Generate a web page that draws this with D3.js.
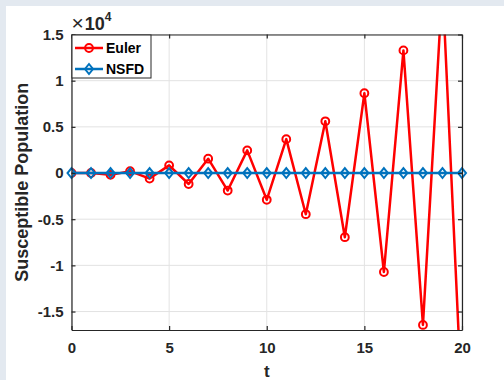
<!DOCTYPE html>
<html>
<head>
<meta charset="utf-8">
<script src="https://cdn.jsdelivr.net/npm/d3@7"></script>
<style>
  html, body { margin: 0; padding: 0; background: #e3e9f0; }
  svg { display: block; }
</style>
</head>
<body>
<script>
// Time steps and the two numerical solutions for the susceptible population
const tValues = d3.range(0, 21);
const eulerValues = [0, 0, -200, 200, -600, 830, -1190, 1550, -1900, 2450, -2900,
  3670, -4460, 5600, -6950, 8640, -10720, 13280, -16450, 20400, -25300];
const nsfdValues = [0, 0, 0, 0, 0, 0, 0, 0, 0, 0, 0, 0, 0, 0, 0, 0, 0, 0, 0, 0, 0];
const xTicks = [0, 5, 10, 15, 20];
const yTicks = [-15000, -10000, -5000, 0, 5000, 10000, 15000];
const yTickLabels = ["-1.5", "-1", "-0.5", "0", "0.5", "1", "1.5"];
const seriesNames = ["Euler", "NSFD"];

const W = 504, H = 380;
const plotL = 71.5, plotR = 462, plotT = 34.5, plotB = 330;
const axisColor = "#262626";
const font = "'Liberation Sans', Arial, Helvetica, sans-serif";

const svg = d3.select("body").append("svg").attr("width", W).attr("height", H);

// white figure panel
svg.append("rect").attr("x", 6).attr("y", 6).attr("width", W - 6).attr("height", H - 6).attr("fill", "#fff");

const x = d3.scaleLinear().domain([0, 20]).range([plotL, plotR]);
const y = d3.scaleLinear().domain([-17000, 15000]).range([plotB, plotT]);

// grid
const grid = svg.append("g").attr("stroke", "#e3e3e3").attr("stroke-width", 1);
xTicks.forEach(v => grid.append("line").attr("x1", x(v)).attr("x2", x(v)).attr("y1", plotT).attr("y2", plotB));
yTicks.forEach(v => grid.append("line").attr("x1", plotL).attr("x2", plotR).attr("y1", y(v)).attr("y2", y(v)));

// data clipped to the plot box
svg.append("clipPath").attr("id", "plotclip").append("rect")
  .attr("x", plotL).attr("y", plotT).attr("width", plotR - plotL).attr("height", plotB - plotT);

const plot = svg.append("g").attr("clip-path", "url(#plotclip)");
const line = d3.line().x((d, i) => x(tValues[i])).y(d => y(d));

const colors = ["#ff0000", "#0072bd"];
const diamond = "M0,-5 L4,0 L0,5 L-4,0 Z";
const lw = 2.5;

// Euler
plot.append("path").datum(eulerValues).attr("d", line)
  .attr("fill", "none").attr("stroke", colors[0]).attr("stroke-width", lw).attr("stroke-linejoin", "round");
plot.selectAll("circle.eu").data(eulerValues).join("circle").attr("class", "eu")
  .attr("cx", (d, i) => x(tValues[i])).attr("cy", d => y(d)).attr("r", 3.9)
  .attr("fill", "none").attr("stroke", colors[0]).attr("stroke-width", 2);

// NSFD
plot.append("path").datum(nsfdValues).attr("d", line)
  .attr("fill", "none").attr("stroke", colors[1]).attr("stroke-width", lw);
svg.selectAll("path.ns").data(nsfdValues).join("path").attr("class", "ns")
  .attr("transform", (d, i) => `translate(${x(tValues[i])},${y(d)})`)
  .attr("d", diamond).attr("fill", "none").attr("stroke", colors[1]).attr("stroke-width", 2);

// axes box and ticks
const xAxisB = d3.axisBottom(x).tickValues(xTicks).tickSizeInner(-4).tickSizeOuter(0).tickFormat(d3.format("d"));
const xAxisT = d3.axisTop(x).tickValues(xTicks).tickSizeInner(-4).tickSizeOuter(0).tickFormat("");
const yAxisL = d3.axisLeft(y).tickValues(yTicks).tickSizeInner(-4).tickSizeOuter(0)
  .tickFormat(d => yTickLabels[yTicks.indexOf(d)]);
const yAxisR = d3.axisRight(y).tickValues(yTicks).tickSizeInner(-4).tickSizeOuter(0).tickFormat("");

function styleAxis(g) {
  g.select(".domain").attr("stroke", axisColor).attr("stroke-width", 1.2);
  g.selectAll(".tick line").attr("stroke", axisColor).attr("stroke-width", 1.2);
  g.selectAll(".tick text").attr("fill", axisColor).style("font-family", font)
    .style("font-size", "15px").style("font-weight", "bold");
}
svg.append("g").attr("transform", `translate(0,${plotB})`).call(xAxisB).call(styleAxis)
  .selectAll(".tick text").attr("dy", "1.05em").attr("y", 7);
svg.append("g").attr("transform", `translate(0,${plotT})`).call(xAxisT).call(styleAxis);
svg.append("g").attr("transform", `translate(${plotL},0)`).call(yAxisL).call(styleAxis)
  .selectAll(".tick text").attr("x", -8);
svg.append("g").attr("transform", `translate(${plotR},0)`).call(yAxisR).call(styleAxis);

// exponent label
const expo = svg.append("text").attr("x", plotL).attr("y", 30)
  .attr("fill", axisColor).style("font-family", font).style("font-size", "16px");
expo.append("tspan").text("×").style("font-weight", "normal").style("font-size", "21px");
expo.append("tspan").text("10").attr("dx", 1).style("font-weight", "bold").style("font-size", "18px");
expo.append("tspan").text("4").attr("dy", -9).style("font-size", "12px").style("font-weight", "bold");

// axis labels
svg.append("text").attr("x", (plotL + plotR) / 2).attr("y", 377).attr("text-anchor", "middle")
  .attr("fill", axisColor).style("font-family", font).style("font-size", "17px").style("font-weight", "bold").text("t");
svg.append("text").attr("transform", `translate(28,${(plotT + plotB) / 2}) rotate(-90)`)
  .attr("text-anchor", "middle").attr("fill", axisColor)
  .style("font-family", font).style("font-size", "18px").style("font-weight", "bold")
  .text("Susceptible Population");

// legend
const lg = svg.append("g").attr("transform", `translate(${plotL + 0.5},${plotT + 0.5})`);
lg.append("rect").attr("width", 79).attr("height", 43).attr("fill", "#fff")
  .attr("stroke", axisColor).attr("stroke-width", 1);
seriesNames.forEach((name, i) => {
  const cy = 13 + i * 21;
  lg.append("line").attr("x1", 3).attr("x2", 31).attr("y1", cy).attr("y2", cy)
    .attr("stroke", colors[i]).attr("stroke-width", lw);
  if (i === 0) {
    lg.append("circle").attr("cx", 17).attr("cy", cy).attr("r", 3.9)
      .attr("fill", "none").attr("stroke", colors[i]).attr("stroke-width", 2);
  } else {
    lg.append("path").attr("transform", `translate(17,${cy})`).attr("d", diamond)
      .attr("fill", "none").attr("stroke", colors[i]).attr("stroke-width", 2);
  }
  lg.append("text").attr("x", 34).attr("y", cy + 5).attr("fill", "#000")
    .style("font-family", font).style("font-size", "14px").style("font-weight", "bold").text(name);
});
</script>
</body>
</html>
